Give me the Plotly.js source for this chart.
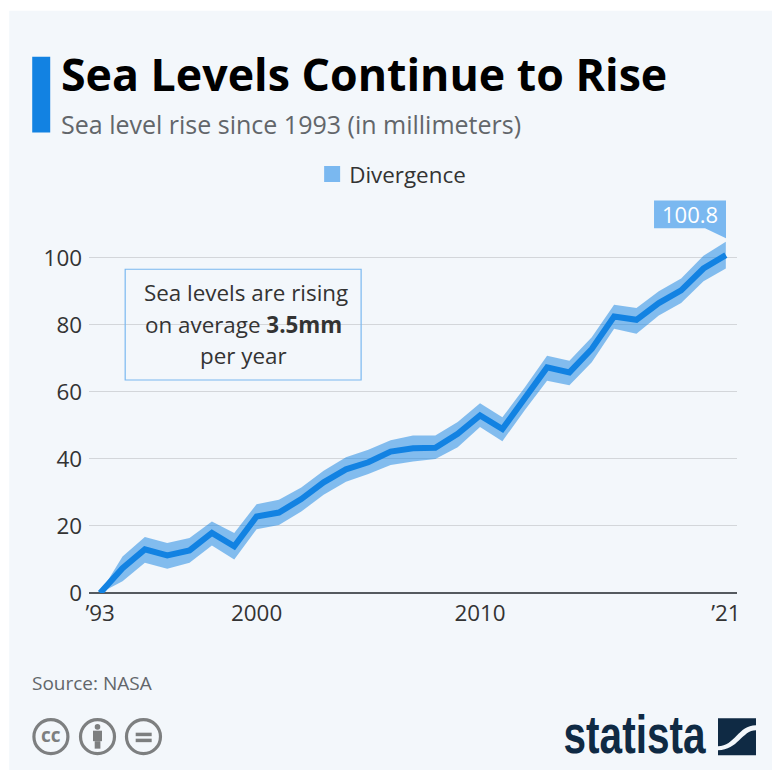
<!DOCTYPE html>
<html>
<head>
<meta charset="utf-8">
<script src="https://cdn.plot.ly/plotly-3.0.1.min.js"></script>
<style>html,body{margin:0;padding:0;background:#fff}#chart{width:772px;height:771px}</style>
</head>
<body>
<div id="chart"></div>
<script>
const years = [1993,1994,1995,1996,1997,1998,1999,2000,2001,2002,2003,2004,2005,2006,2007,2008,2009,2010,2011,2012,2013,2014,2015,2016,2017,2018,2019,2020,2021];
const seaLevel = [0,7.4,13,11.2,12.7,17.9,13.9,22.8,24,28,33,36.9,39,42.2,43.2,43.3,47.5,53,48.9,57.8,67.3,65.8,72.8,82.5,81.5,86.5,90.3,96.8,100.8];
const upper = [0,10.9,16.7,14.9,16.4,21.3,17.9,26.5,27.8,31.5,36.5,40.5,42.7,45.6,47,47,51,56.6,52.4,61.3,70.8,69.3,76.3,86,85,90,93.8,100.6,104.8];
const lower = [0,3.5,9,7.2,9,14.2,10,19,20.3,24.3,29.3,33.2,35.5,38.2,39.2,40,43.5,49.5,45.3,54.5,63.3,62,68.8,78.8,77.3,82.8,86.5,93,96.8];
const xTickVals = [1993,2000,2010,2021];
const xTickText = ["’93","2000","2010","’21"];
const yTickVals = [0,20,40,60,80,100];
const legendName = "Divergence";
const lastLabel = "100.8";

const W = 772, H = 771, L = 88.8, R = 737, T = 240.7, B = 593.5;
const fx = p => (p - L) / (R - L);
const fy = p => (B - p) / (B - T);
const FONT = "'Open Sans', sans-serif";

function text(t, x, y, size, color, anchor, extra) {
  return Object.assign({text: t, xref: "paper", yref: "paper", x: fx(x), y: fy(y), showarrow: false,
    xanchor: anchor || "left", yanchor: "middle", font: {family: FONT, size: size, color: color}}, extra || {});
}
function rect(x0, y0, x1, y1, fill, line, lw) {
  return {type: "rect", xref: "paper", yref: "paper", x0: fx(x0), x1: fx(x1), y0: fy(y0), y1: fy(y1),
    fillcolor: fill, line: {color: line || "rgba(0,0,0,0)", width: lw || 0}, layer: "above"};
}
function circle(cx, cy, r, fill, line, lw) {
  return Object.assign(rect(cx - r, cy - r, cx + r, cy + r, fill, line, lw), {type: "circle"});
}
function path(cmds, fill) {
  const d = cmds.map(c => c[0] + (c.length > 1 ? " " + fx(c[1]) + "," + fy(c[2]) + (c.length > 3 ? " " + fx(c[3]) + "," + fy(c[4]) + " " + fx(c[5]) + "," + fy(c[6]) : "") : "")).join(" ");
  return {type: "path", xref: "paper", yref: "paper", path: d, fillcolor: fill, line: {width: 0}, layer: "above"};
}

const BG = "#f3f7fb", BAND = "#7ab8f0", LINE = "#1282e2", ICON = "#7d7f80", NAVY = "#0f2a44";

const shapes = [
  Object.assign(rect(9, 10, 772, 771, BG), {layer: "below"}),
  rect(32, 56, 50, 132, LINE),
  rect(125, 269, 361, 380, "rgba(0,0,0,0)", BAND, 1.2),
  path([["M",654,200],["L",726,200],["L",726,238],["L",705,228],["L",654,228],["Z"]], BAND),
  circle(50.7, 737.5, 17, "rgba(0,0,0,0)", ICON, 3.2),
  circle(97.3, 737.5, 17, "rgba(0,0,0,0)", ICON, 3.2),
  circle(97.3, 727.7, 2.8, ICON),
  rect(92.8, 731.5, 101.8, 742, ICON),
  rect(94.5, 742, 100.2, 749.5, ICON),
  circle(143.3, 737.5, 17, "rgba(0,0,0,0)", ICON, 3.2),
  rect(135.5, 733.5, 151.5, 737, ICON),
  rect(135.5, 739.5, 151.5, 743, ICON),
  rect(718, 719, 756, 756, NAVY),
  path([["M",718,747],["C",735,747,738,726,756,726],["L",756,731],["C",742,731,738,751,718,751],["Z"]], BG)
];

const annotations = [
  text("<b>Sea Levels Continue to Rise</b>", 59, 73, 44.7, "#000000"),
  text("Sea level rise since 1993 (in millimeters)", 59, 123, 25, "#62666a"),
  text(lastLabel, 690, 214, 22, "#ffffff", "center"),
  text("Sea levels are rising", 246, 292, 22.4, "#333333", "center"),
  text("on average <b>3.5mm</b>", 243, 324, 22.4, "#333333", "center"),
  text("per year", 243, 355, 22.4, "#333333", "center"),
  text("Source: NASA", 30, 684, 19, "#62666a"),
  text("<b>cc</b>", 50.7, 736, 19, ICON, "center"),
  text("<b>statista</b>", 635, 735, 54, NAVY, "center", {font: {family: "'Liberation Sans',sans-serif", size: 54, color: NAVY}})
];

const traces = [
  {x: years, y: lower, mode: "lines", line: {width: 0}, showlegend: false, hoverinfo: "skip"},
  {x: years, y: upper, mode: "lines", line: {width: 0}, fill: "tonexty", fillcolor: "rgba(18,130,226,0.5)", showlegend: false, hoverinfo: "skip"},
  {x: years, y: seaLevel, mode: "lines", line: {color: LINE, width: 6, shape: "linear"}, showlegend: false},
  {x: [null], y: [null], mode: "markers", name: legendName, marker: {symbol: "square", size: 16, color: BAND}, showlegend: true}
];

const layout = {
  width: W, height: H,
  paper_bgcolor: "#ffffff", plot_bgcolor: "rgba(0,0,0,0)",
  margin: {l: L, r: W - R, t: T, b: H - B, pad: 0},
  showlegend: true,
  legend: {orientation: "h", xref: "paper", yref: "paper", x: fx(309), y: fy(174), xanchor: "left", yanchor: "middle",
    bgcolor: "rgba(0,0,0,0)", font: {family: FONT, size: 22.4, color: "#333333"}},
  xaxis: {range: [1992.5, 2021.5], tickmode: "array", tickvals: xTickVals, ticktext: xTickText, showgrid: false, zeroline: false,
    showline: false, ticks: "", ticklabelstandoff: 5, tickfont: {family: FONT, size: 22.4, color: "#333333"}, fixedrange: true},
  yaxis: {range: [0, 105], tickmode: "array", tickvals: yTickVals, showgrid: true, gridcolor: "#d3d6da", gridwidth: 1.2, zeroline: true,
    zerolinecolor: "#555a5f", zerolinewidth: 1.5, ticks: "", ticklabelstandoff: 6, tickfont: {family: FONT, size: 22.4, color: "#333333"}, fixedrange: true},
  shapes: shapes,
  annotations: annotations
};
Plotly.newPlot("chart", traces, layout, {displayModeBar: false, responsive: false}).then(() => {
  document.querySelectorAll(".annotation-text").forEach(t => {
    if (t.textContent === "statista") {
      t.setAttribute("textLength", "142");
      t.setAttribute("lengthAdjust", "spacingAndGlyphs");
    }
  });
  const lp = document.querySelector(".legend .legendpoints");
  if (lp) lp.setAttribute("transform", "translate(3,0)");
});
</script>
</body>
</html>
